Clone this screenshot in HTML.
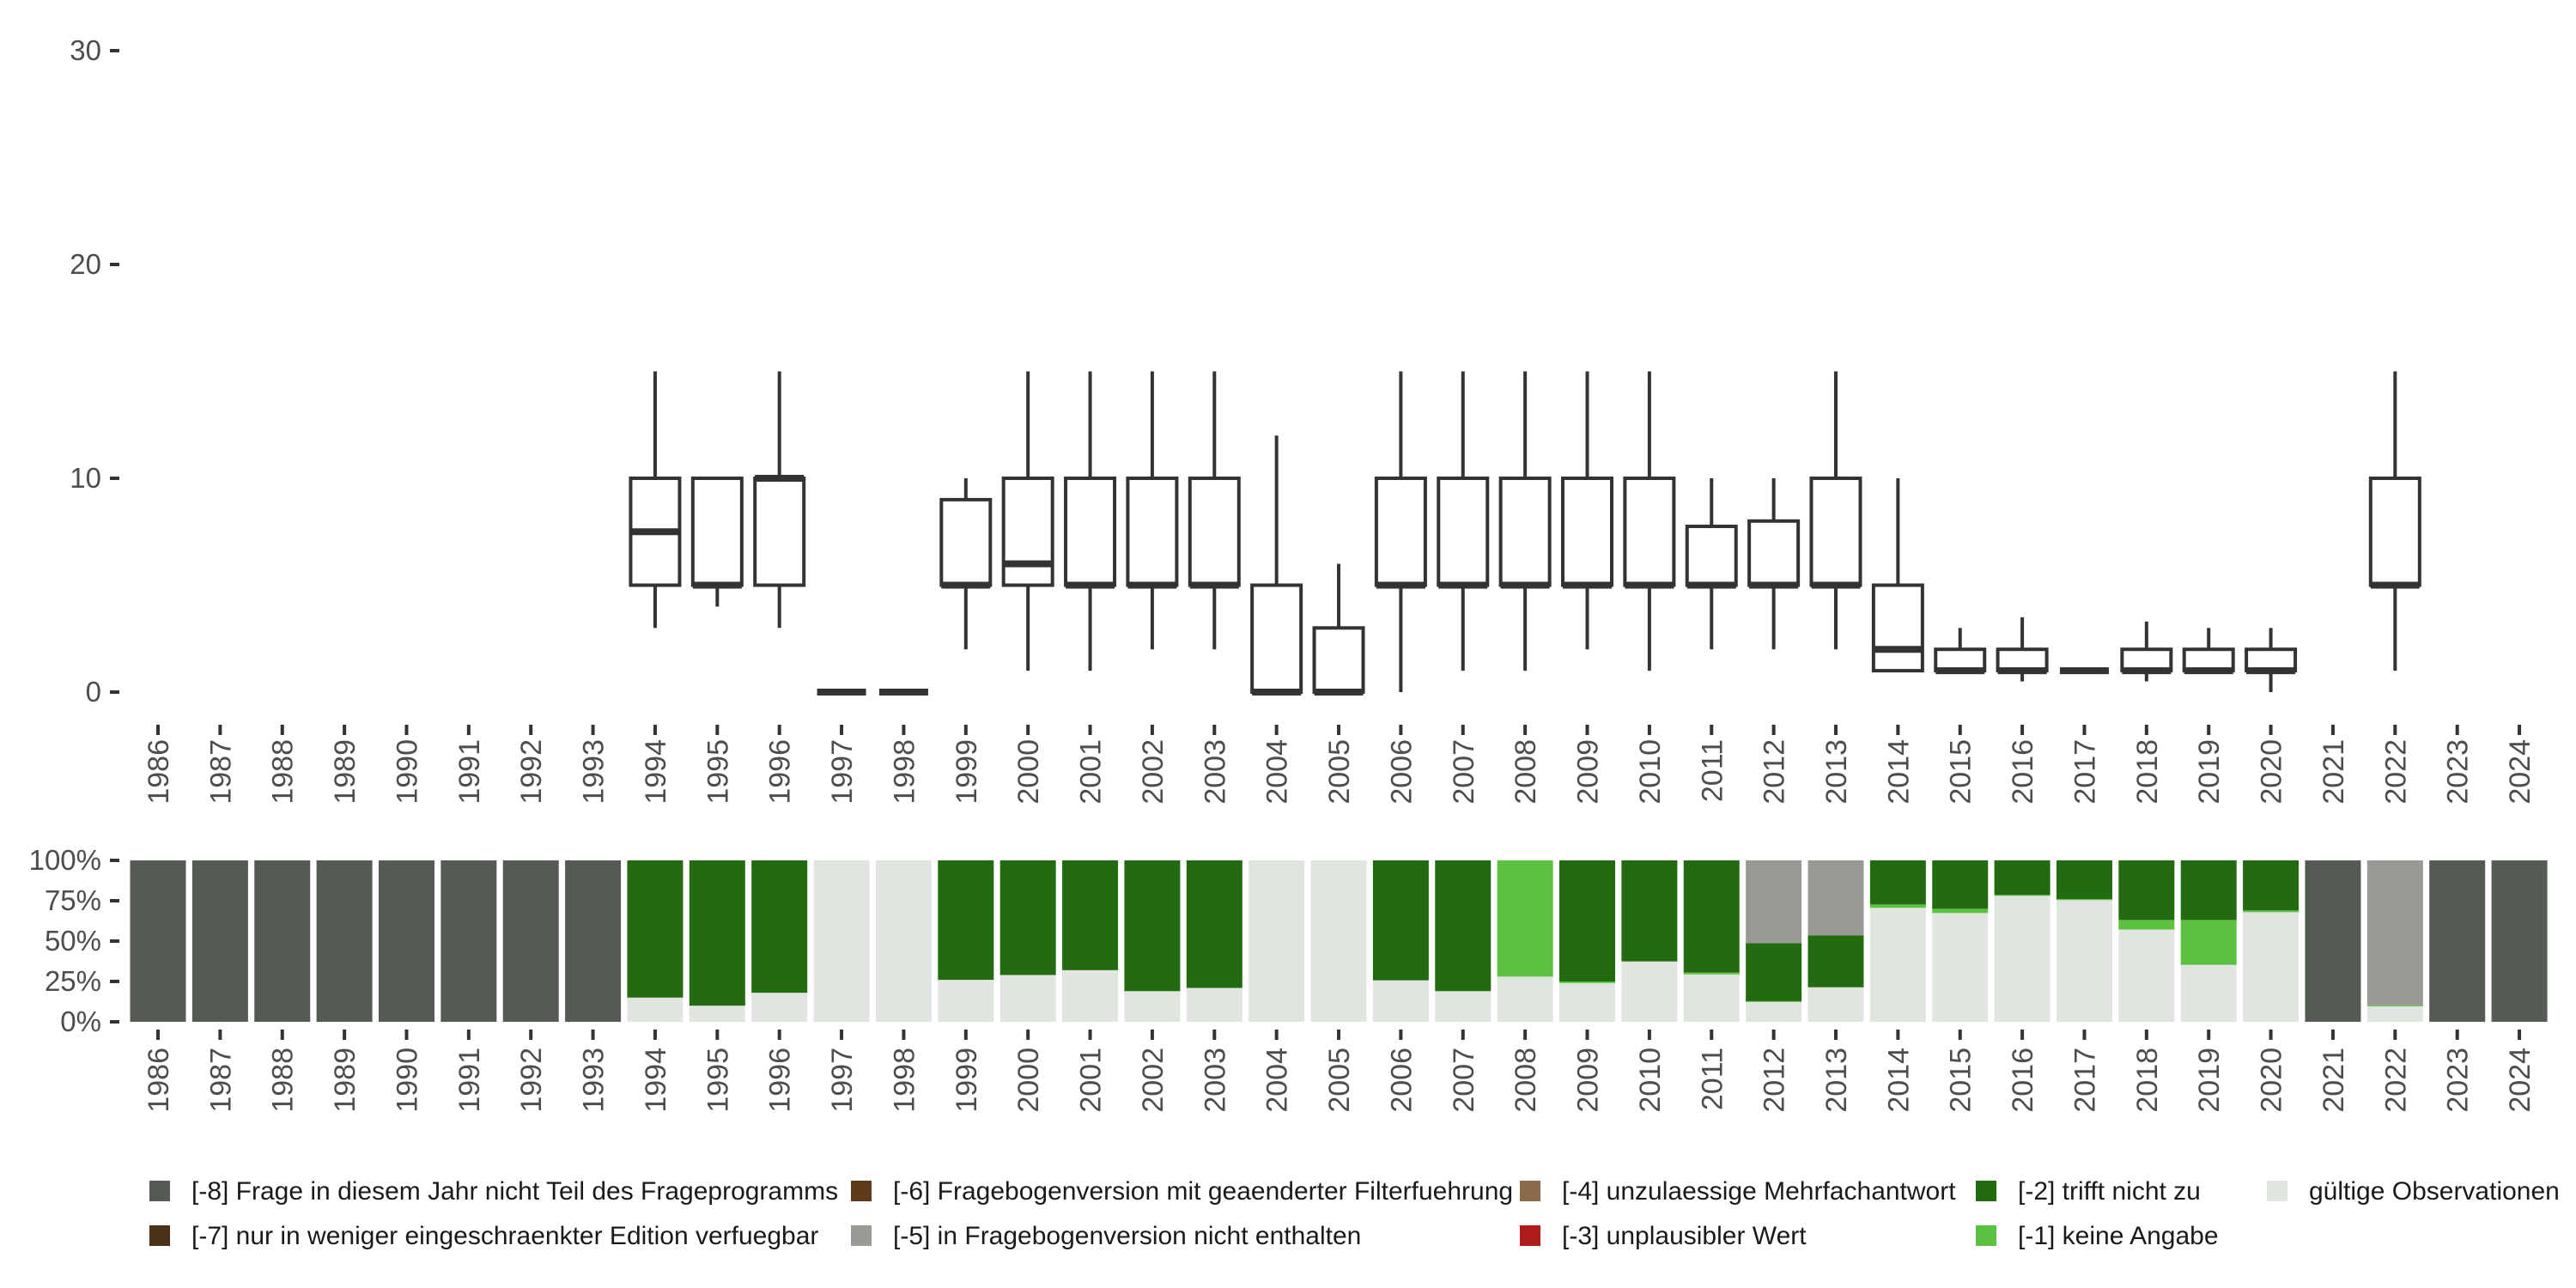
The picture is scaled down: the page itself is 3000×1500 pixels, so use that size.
<!DOCTYPE html>
<html><head><meta charset="utf-8">
<style>
html,body{margin:0;padding:0;background:#fff;}
svg{display:block;font-family:"Liberation Sans",sans-serif;}
</style></head>
<body>
<svg id="chart" width="3000" height="1500" viewBox="0 0 3000 1500" xmlns="http://www.w3.org/2000/svg">
<g id="topPanel"></g>
<g id="bottomPanel"></g>
<g id="legendPanel"></g>
</svg>
<script>
const years = [];
for (let y = 1986; y <= 2024; y++) years.push(y);
const boxYears = [1994,1995,1996,1997,1998,1999,2000,2001,2002,2003,2004,2005,2006,2007,2008,2009,2010,2011,2012,2013,2014,2015,2016,2017,2018,2019,2020,2022];
const boxMin =   [3,4,3,0,0,2,1,1,2,2,0,0,0,1,1,2,1,2,2,2,1,1,0.5,1,0.5,1,0,1];
const boxQ1 =    [5,5,5,0,0,5,5,5,5,5,0,0,5,5,5,5,5,5,5,5,1,1,1,1,1,1,1,5];
const boxMed =   [7.5,5,10,0,0,5,6,5,5,5,0,0,5,5,5,5,5,5,5,5,2,1,1,1,1,1,1,5];
const boxQ3 =    [10,10,10,0,0,9,10,10,10,10,5,3,10,10,10,10,10,7.75,8,10,5,2,2,1,2,2,2,10];
const boxMax =   [15,10,15,0,0,10,15,15,15,15,12,6,15,15,15,15,15,10,10,15,10,3,3.5,1,3.3,3,3,15];
const yTicks = [0,10,20,30];
const pctTicks = [0,25,50,75,100];
const catKeys = ["valid","m1","m2","m3","m4","m5","m6","m7","m8"];
const catLabels = {
  m8:"[-8] Frage in diesem Jahr nicht Teil des Frageprogramms",
  m7:"[-7] nur in weniger eingeschraenkter Edition verfuegbar",
  m6:"[-6] Fragebogenversion mit geaenderter Filterfuehrung",
  m5:"[-5] in Fragebogenversion nicht enthalten",
  m4:"[-4] unzulaessige Mehrfachantwort",
  m3:"[-3] unplausibler Wert",
  m2:"[-2] trifft nicht zu",
  m1:"[-1] keine Angabe",
  valid:"gültige Observationen"
};
const catColors = {m8:"#545b53",m7:"#4b3119",m6:"#5e3a18",m5:"#989b94",m4:"#8c6a4b",m3:"#b01c1c",m2:"#226b10",m1:"#5cc140",valid:"#e1e5e0"};
const shareValid = [0,0,0,0,0,0,0,0,15,10,18,100,100,26,29,32,19,21,100,100,25.7,19,28,24,37.4,29.4,12.3,21.4,70.6,67.4,78,75.4,57.2,35.3,67.9,0,9.6,0,0];
const shareM1 =    [0,0,0,0,0,0,0,0,0,0,0,0,0,0,0,0,0,0,0,0,0,0,72,1,0,1.1,0.5,0,2.1,2.6,0.6,0.6,5.9,27.8,1.1,0,0.6,0,0];
const shareM2 =    [0,0,0,0,0,0,0,0,85,90,82,0,0,74,71,68,81,79,0,0,74.3,81,0,75,62.6,69.5,35.9,32.1,27.3,30,21.4,24,36.9,36.9,31,0,0,0,0];
const shareM5 =    [0,0,0,0,0,0,0,0,0,0,0,0,0,0,0,0,0,0,0,0,0,0,0,0,0,0,51.3,46.5,0,0,0,0,0,0,0,0,89.8,0,0];
const shareM8 =    [100,100,100,100,100,100,100,100,0,0,0,0,0,0,0,0,0,0,0,0,0,0,0,0,0,0,0,0,0,0,0,0,0,0,0,100,0,100,100];
const shares = {valid:shareValid,m1:shareM1,m2:shareM2,m3:years.map(()=>0),m4:years.map(()=>0),m5:shareM5,m6:years.map(()=>0),m7:years.map(()=>0),m8:shareM8};

const NS = "http://www.w3.org/2000/svg";
function mk(parent, tag, attrs){ const e=document.createElementNS(NS,tag); for(const k in attrs) e.setAttribute(k,attrs[k]); parent.appendChild(e); return e; }
const xPos = y => 184 + (y-1986)*72.37;
const yTop = v => 806 - 24.9*v;
const yBot = p => 1190 - 1.88*p;
const ink = "#333333", tickCol="#333333", lab="#4d4d4d";

const topG = document.getElementById('topPanel');
const botG = document.getElementById('bottomPanel');
const legG = document.getElementById('legendPanel');

yTicks.forEach(v=>{
  const t = mk(topG,'line',{x1:128,x2:139,y1:yTop(v),y2:yTop(v),stroke:tickCol,'stroke-width':4});
  
  
  const l = mk(topG,'text',{x:118,y:yTop(v)+11,'text-anchor':'end','font-size':33,fill:lab});
  l.textContent = v;
  
  
});
years.forEach(yr=>{
  const x = xPos(yr);
  [[844,856,861],[1199,1211,1220]].forEach(([a,b,ty],i)=>{
    const g = i?botG:topG;
    const t = mk(g,'line',{x1:x,x2:x,y1:a,y2:b,stroke:tickCol,'stroke-width':4});
    
    
    const l = mk(g,'text',{x:0,y:0,'text-anchor':'end','font-size':34,fill:lab,transform:`translate(${x+12},${ty}) rotate(-90)`});
    l.textContent = yr;
    
    
  });
});
boxYears.forEach((yr,i)=>{
  const x = xPos(yr), hw = 28.5;
  const g = mk(topG,'g',{});
  
  
  mk(g,'line',{x1:x,x2:x,y1:yTop(boxMax[i]),y2:yTop(boxQ3[i]),stroke:ink,'stroke-width':4});
  mk(g,'line',{x1:x,x2:x,y1:yTop(boxQ1[i]),y2:yTop(boxMin[i]),stroke:ink,'stroke-width':4});
  mk(g,'rect',{x:x-hw,y:yTop(boxQ3[i]),width:2*hw,height:Math.max(0,yTop(boxQ1[i])-yTop(boxQ3[i])),fill:'#fff',stroke:ink,'stroke-width':4});
  mk(g,'line',{x1:x-hw,x2:x+hw,y1:yTop(boxMed[i]),y2:yTop(boxMed[i]),stroke:ink,'stroke-width':8});
});
pctTicks.forEach(p=>{
  const t = mk(botG,'line',{x1:128,x2:139,y1:yBot(p),y2:yBot(p),stroke:tickCol,'stroke-width':4});
  
  
  const l = mk(botG,'text',{x:118,y:yBot(p)+11,'text-anchor':'end','font-size':33,fill:lab});
  l.textContent = p+'%';
  
  
});
years.forEach((yr,i)=>{
  const x = xPos(yr), hw = 32.5;
  let cum = 0;
  catKeys.forEach(k=>{
    const v = shares[k][i];
    if(v<=0) return;
    const top0 = Math.min(100,cum+v);
    const r = mk(botG,'rect',{x:x-hw,y:yBot(top0),width:2*hw,height:yBot(cum)-yBot(top0),fill:catColors[k]});
    
    
    cum = top0;
  });
});
const legCols = [[174,["m8","m7"]],[991,["m6","m5"]],[1770,["m4","m3"]],[2301,["m2","m1"]],[2640,["valid"]]];
legCols.forEach(([lx,keys])=>{
  keys.forEach((k,r)=>{
    const cy = 1387 + r*52;
    const g = mk(legG,'g',{});
    
    
    mk(g,'rect',{x:lx,y:cy-12,width:24,height:24,fill:catColors[k]});
    const t = mk(g,'text',{x:lx+49,y:cy+10,'font-size':30,fill:'#1a1a1a'});
    t.textContent = catLabels[k];
  });
});
</script>
</body></html>
